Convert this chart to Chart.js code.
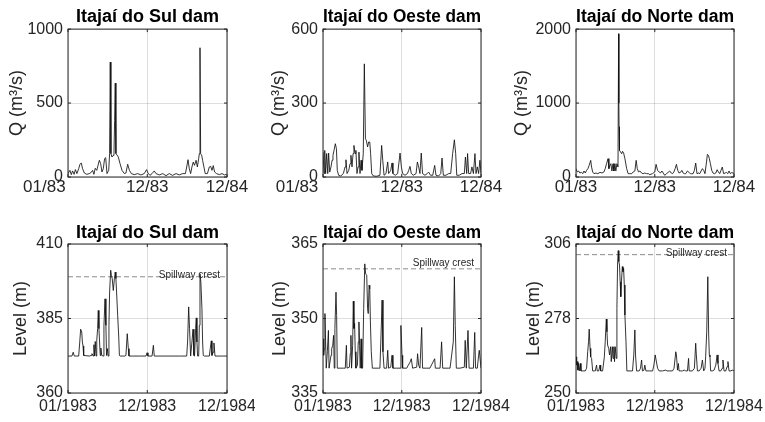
<!DOCTYPE html>
<html>
<head>
<meta charset="utf-8">
<script src="https://cdn.jsdelivr.net/npm/chart.js@4.4.0/dist/chart.umd.min.js"></script>
<style>
  body { margin: 0; background: #fff; }
  #wrap { position: relative; width: 765px; height: 422px; overflow: hidden; }
  #wrap canvas { position: absolute; }
</style>
</head>
<body>
<div id="wrap">
  <canvas id="c1" width="255" height="210" style="left:0;top:0"></canvas>
  <canvas id="c2" width="255" height="210" style="left:255px;top:0"></canvas>
  <canvas id="c3" width="255" height="210" style="left:510px;top:0"></canvas>
  <canvas id="c4" width="255" height="212" style="left:0;top:210px"></canvas>
  <canvas id="c5" width="255" height="212" style="left:255px;top:210px"></canvas>
  <canvas id="c6" width="255" height="212" style="left:510px;top:210px"></canvas>
</div>
<script>
// day 0 = 01/01/1983
const tickDays = [0, 364, 730];
const shortTicks = ['01/83', '12/83', '12/84'];
const longTicks = ['01/1983', '12/1983', '12/1984'];

// discharge, Itajaí do Sul
const sulQDays = [0,9,15,21,28,34,41,49,55,61,67,75,86,98,107,113,119,125,132,138,144,150,156,162,168,173,179,187,191,194,197,202,207,211,214,217,220,225,231,239,248,259,266,274,282,291,304,320,335,350,361,367,376,386,396,404,419,435,450,465,480,496,511,526,539,545,551,557,563,569,575,581,588,594,600,603,606,609,614,618,624,630,640,649,655,661,667,673,682,695,707,719,728];
const sulQ = [23,45,16,41,18,50,23,56,86,95,56,27,18,23,32,45,18,59,45,79,113,90,34,56,124,131,23,45,158,777,158,135,146,158,383,635,158,149,135,90,45,23,27,86,45,23,16,23,14,23,50,27,11,23,41,23,14,23,9,23,11,23,14,23,23,68,117,56,23,68,101,79,113,68,124,158,874,158,146,113,68,23,23,68,72,45,77,34,23,16,23,14,18];

// discharge, Itajaí do Oeste
const oesteQDays = [0,5,8,12,17,22,26,31,37,42,46,51,57,62,66,72,82,94,102,106,111,119,125,129,134,139,143,148,152,157,162,166,171,176,180,186,191,196,200,206,211,216,220,225,233,248,263,271,276,282,291,299,303,313,319,323,334,345,356,362,368,379,390,396,402,408,417,430,436,442,448,454,460,471,482,488,497,507,516,522,534,544,550,556,568,581,590,599,607,613,618,630,642,653,658,664,668,673,682,688,695,702,707,713,719,725,730];
const oesteQ = [101,14,108,14,95,14,97,20,41,68,88,108,135,115,27,7,4,14,41,70,14,27,54,88,41,95,128,95,108,14,41,101,14,68,27,95,459,155,149,122,142,142,95,14,4,3,7,128,68,7,14,61,14,27,57,14,7,14,97,41,14,7,14,27,43,14,7,14,61,41,14,97,14,7,14,20,7,7,47,7,4,14,77,7,7,14,14,95,151,95,7,7,14,14,81,14,95,14,14,41,14,95,14,41,14,68,14];

// discharge, Itajaí do Norte
const norteQDays = [0,6,12,18,25,31,37,43,49,55,61,68,72,77,83,92,101,111,120,129,135,141,148,152,157,161,166,171,175,180,184,189,194,197,198,199,201,206,211,215,220,226,234,241,249,257,264,272,278,283,289,295,303,310,318,326,334,341,353,364,370,377,384,390,397,403,410,418,426,433,440,446,452,458,464,470,476,483,489,495,501,507,515,523,529,535,541,547,553,559,566,572,578,584,590,596,603,607,612,616,621,627,633,639,646,652,658,664,670,676,682,689,695,701,707,713,719,726,730];
const norteQ = [113,68,81,54,63,45,81,54,90,113,158,225,135,68,45,54,45,63,54,68,113,180,248,113,158,180,81,180,81,180,81,180,135,1937,1000,680,360,338,315,347,324,248,113,45,45,45,68,81,225,113,68,81,54,45,54,45,45,32,45,68,171,90,68,54,81,54,23,45,63,81,54,45,68,113,171,90,54,63,90,54,45,45,81,59,45,45,45,90,189,45,54,45,81,113,90,45,203,306,293,248,180,90,54,45,54,99,68,45,90,135,45,54,63,45,81,45,59,54,45];

// reservoir level, Itajaí do Sul
const sulLevelDays = [0,18,24,29,49,54,58,63,66,69,72,98,107,110,116,119,122,125,129,132,136,139,142,145,148,151,155,162,165,170,174,177,181,184,188,191,196,199,203,208,213,217,220,223,228,233,236,239,251,260,266,272,277,280,297,327,358,363,367,386,392,396,450,511,545,549,554,558,563,569,574,578,581,586,589,592,595,600,603,606,610,615,618,621,626,649,653,658,661,666,670,675,710,730];
const sulLevel = [372.4,372.4,373.7,372.4,372.4,377.1,381.4,380.5,377.1,375.8,372.6,372.4,372.6,373.2,372.4,376.2,372.4,377.3,372.4,377.7,381.6,387.7,381.6,377.1,372.6,375.1,372.6,372.4,382.7,391.6,382.7,372.6,374.9,372.4,382.7,393.9,401.2,399.5,398.4,394.4,398.4,400.6,398.4,393.9,386.1,378.8,372.6,372.4,372.4,372.4,372.6,379.9,374.9,372.4,372.4,372.4,372.4,373.5,372.4,372.4,376.0,372.4,372.4,372.4,372.4,377.1,388.9,381.6,372.4,377.1,381.4,372.6,372.4,381.6,385.2,377.1,372.4,372.4,382.7,400.0,397.2,388.3,377.1,372.6,372.4,372.4,374.9,377.5,372.6,373.7,376.8,372.4,372.4,372.4];

// reservoir level, Itajaí do Oeste
const oesteLevelDays = [0,3,6,9,12,15,20,25,28,32,37,40,45,49,52,55,60,63,66,79,94,103,108,111,122,126,129,132,137,140,143,146,149,152,159,163,166,169,172,176,179,183,188,193,197,202,206,209,213,216,219,223,228,240,256,263,270,273,277,282,294,299,303,313,319,323,340,356,360,365,368,387,394,402,408,414,433,437,442,448,456,460,479,494,516,519,541,548,553,579,587,602,607,611,616,633,653,657,662,665,670,675,695,701,705,713,719,722,730];
const oesteLevel = [345.9,342.6,343.9,351.0,345.3,340.0,343.3,347.6,340.0,340.0,342.6,343.9,344.6,346.6,340.0,348.0,355.3,350.6,340.0,340.0,340.0,340.0,344.6,340.0,340.2,342.9,346.6,340.0,344.6,353.5,348.0,349.0,343.3,340.0,340.6,345.3,349.3,344.6,340.0,345.9,340.0,340.0,352.0,361.0,359.0,358.7,352.0,351.0,356.7,356.0,349.3,343.3,340.0,340.0,340.0,340.0,349.3,353.7,343.3,340.0,340.0,343.6,340.0,340.2,342.6,340.0,340.0,340.0,348.6,342.6,340.0,340.0,340.6,341.2,341.9,340.0,340.2,342.9,340.6,340.0,348.2,340.0,340.0,340.0,341.9,340.0,340.0,345.3,340.0,340.0,340.0,345.3,358.4,348.6,340.0,340.0,340.2,345.6,340.0,340.0,347.6,340.0,340.0,347.2,340.0,340.0,342.6,343.6,340.0];

// reservoir level, Itajaí do Norte
const norteLevelDays = [0,3,6,9,12,15,20,23,28,34,43,49,54,58,61,65,68,72,77,85,89,95,98,105,111,114,123,131,135,140,143,146,151,155,160,163,168,171,175,178,181,186,189,192,195,198,201,204,207,210,214,217,220,223,226,231,235,254,261,267,272,275,280,292,298,303,307,314,318,323,338,354,360,366,370,377,384,400,415,420,430,446,453,461,464,469,473,476,484,492,500,507,515,520,523,538,547,553,556,561,569,578,584,590,596,599,604,609,613,616,619,622,630,638,646,652,656,661,669,676,679,684,692,698,702,707,715,722,730];
const norteLevel = [263.6,260.5,261.8,258.6,261.1,258.3,261.1,258.3,258.3,258.3,258.3,259.3,265.5,269.3,274.0,266.8,263.6,263.0,258.3,258.3,258.3,260.5,258.3,258.3,260.5,258.3,258.3,263.6,269.3,277.8,273.0,268.0,266.8,264.3,267.4,261.8,267.4,263.0,267.4,261.8,267.4,263.0,281.8,298.1,303.5,299.4,298.1,291.8,286.2,291.8,297.5,295.6,296.9,290.6,279.3,269.3,258.3,258.3,258.3,264.3,273.7,264.3,258.3,258.3,259.3,262.4,258.3,258.6,260.5,258.3,258.3,258.3,260.5,264.3,262.4,259.3,258.3,258.3,258.6,258.3,258.3,258.3,259.3,265.5,264.3,258.6,261.1,258.3,258.3,258.3,258.6,258.3,258.3,263.0,258.3,258.3,259.3,268.7,264.3,258.3,258.3,259.3,262.4,258.3,259.3,263.6,273.0,293.7,271.8,264.3,263.6,258.3,258.3,258.6,260.5,264.3,261.1,258.3,258.3,259.3,262.4,258.3,258.3,259.9,261.8,258.3,258.3,258.6,258.3];

// spillway crest elevations (m)
const sulCrest = 399;
const oesteCrest = 360;
const norteCrest = 302;

const FONT = "'Liberation Sans', Arial, Helvetica, sans-serif";
const INK = '#262626';

const panels = [
  { id: 'c1', title: 'Itajaí do Sul dam',   days: sulQDays,   vals: sulQ,   yMin: 0,   yMax: 1000, yTitle: 'Q (m³/s)',  ticks: shortTicks, row: 0, yW: 68, yTitlePad: 6,  padR: 28, firstPad: 10 },
  { id: 'c2', title: 'Itajaí do Oeste dam', days: oesteQDays, vals: oesteQ, yMin: 0,   yMax: 600,  yTitle: 'Q (m³/s)',  ticks: shortTicks, row: 0, yW: 68, yTitlePad: 13, padR: 29, firstPad: 11 },
  { id: 'c3', title: 'Itajaí do Norte dam', days: norteQDays, vals: norteQ, yMin: 0,   yMax: 2000, yTitle: 'Q (m³/s)',  ticks: shortTicks, row: 0, yW: 66, yTitlePad: 1,  padR: 31, firstPad: 0 },
  { id: 'c4', title: 'Itajaí do Sul dam',   days: sulLevelDays,   vals: sulLevel,   yMin: 360, yMax: 410, yTitle: 'Level (m)', ticks: longTicks, row: 1, yW: 68, yTitlePad: 10,   padR: 28, firstPad: 0, crest: sulCrest,   crestDy: 1 },
  { id: 'c5', title: 'Itajaí do Oeste dam', days: oesteLevelDays, vals: oesteLevel, yMin: 335, yMax: 365, yTitle: 'Level (m)', ticks: longTicks, row: 1, yW: 68, yTitlePad: 14.5, padR: 29, firstPad: 0, crest: oesteCrest, crestDy: -2.5 },
  { id: 'c6', title: 'Itajaí do Norte dam', days: norteLevelDays, vals: norteLevel, yMin: 250, yMax: 306, yTitle: 'Level (m)', ticks: longTicks, row: 1, yW: 66, yTitlePad: 13,   padR: 31, firstPad: 0, crest: norteCrest, crestDy: 1 }
];

const rows = [
  { titlePad: { top: 6.5, bottom: 1 },  xH: 33, xPad: 0.5, xFont: 17 },
  { titlePad: { top: 12, bottom: 0.4 }, xH: 29, xPad: 4,   xFont: 16 }
];

// axes box with inward tick marks
const frame = {
  id: 'frame',
  afterDraw(chart) {
    const { ctx, chartArea: a, scales } = chart;
    ctx.save();
    ctx.strokeStyle = INK;
    ctx.lineWidth = 1;
    ctx.strokeRect(a.left, a.top, a.width, a.height);
    ctx.beginPath();
    scales.x.ticks.forEach(t => {
      const px = scales.x.getPixelForValue(t.value);
      ctx.moveTo(px, a.bottom); ctx.lineTo(px, a.bottom - 3);
      ctx.moveTo(px, a.top); ctx.lineTo(px, a.top + 3);
    });
    scales.y.ticks.forEach(t => {
      const py = scales.y.getPixelForValue(t.value);
      ctx.moveTo(a.left, py); ctx.lineTo(a.left + 3, py);
      ctx.moveTo(a.right, py); ctx.lineTo(a.right - 3, py);
    });
    ctx.stroke();
    ctx.restore();
  }
};

// text over the spillway crest line
const crestLabel = {
  id: 'crestLabel',
  afterDatasetsDraw(chart, args, opts) {
    if (opts.value == null) return;
    const { ctx, chartArea: a, scales } = chart;
    const y = scales.y.getPixelForValue(opts.value);
    ctx.save();
    ctx.font = '10px ' + FONT;
    ctx.fillStyle = INK;
    ctx.textAlign = 'right';
    ctx.textBaseline = 'alphabetic';
    ctx.fillText('Spillway crest', a.right - 7, y + opts.dy);
    ctx.restore();
  }
};

panels.forEach(p => {
  const r = rows[p.row];
  const datasets = [{
    data: p.days.map((d, i) => ({ x: d, y: p.vals[i] })),
    borderColor: '#111',
    borderWidth: 0.85,
    pointRadius: 0,
    tension: 0
  }];
  if (p.crest != null) {
    datasets.push({
      data: [{ x: 0, y: p.crest }, { x: 730, y: p.crest }],
      borderColor: '#8a8a8a',
      borderWidth: 1,
      borderDash: [5, 3],
      pointRadius: 0
    });
  }
  const mid = (p.yMin + p.yMax) / 2;
  new Chart(document.getElementById(p.id), {
    type: 'line',
    data: { datasets },
    plugins: [frame, crestLabel],
    options: {
      responsive: false,
      animation: false,
      events: [],
      layout: { padding: { left: 0, right: p.padR, top: 0, bottom: 0 } },
      plugins: {
        legend: { display: false },
        tooltip: { enabled: false },
        title: {
          display: true,
          fullSize: false,
          text: p.title,
          color: '#000',
          font: { family: FONT, size: 18, weight: 'bold', lineHeight: 1.2 },
          padding: r.titlePad
        },
        crestLabel: { value: p.crest, dy: p.crestDy }
      },
      scales: {
        x: {
          type: 'linear',
          min: 0,
          max: 730,
          afterBuildTicks: s => { s.ticks = tickDays.map(v => ({ value: v })); },
          afterFit: s => { s.height = r.xH; s.paddingLeft = 0; s.paddingRight = 0; },
          border: { display: false },
          grid: { color: 'rgba(0,0,0,0.13)', lineWidth: 1, drawTicks: false },
          ticks: {
            color: INK,
            font: { family: FONT, size: r.xFont },
            padding: r.xPad,
            maxRotation: 0,
            autoSkip: false,
            callback: (v, i) => i === 0 ? p.ticks[0] + ' '.repeat(p.firstPad) : p.ticks[i]
          }
        },
        y: {
          min: p.yMin,
          max: p.yMax,
          afterBuildTicks: s => { s.ticks = [p.yMin, mid, p.yMax].map(v => ({ value: v })); },
          afterFit: s => { s.width = p.yW; },
          border: { display: false },
          grid: { color: 'rgba(0,0,0,0.13)', lineWidth: 1, drawTicks: false },
          ticks: {
            color: INK,
            font: { family: FONT, size: 16 },
            padding: 5,
            callback: v => String(v)
          },
          title: {
            display: true,
            text: p.yTitle,
            color: INK,
            font: { family: FONT, size: 18, lineHeight: 1.2 },
            padding: { top: p.yTitlePad, bottom: 0 }
          }
        }
      }
    }
  });
});
</script>
</body>
</html>
